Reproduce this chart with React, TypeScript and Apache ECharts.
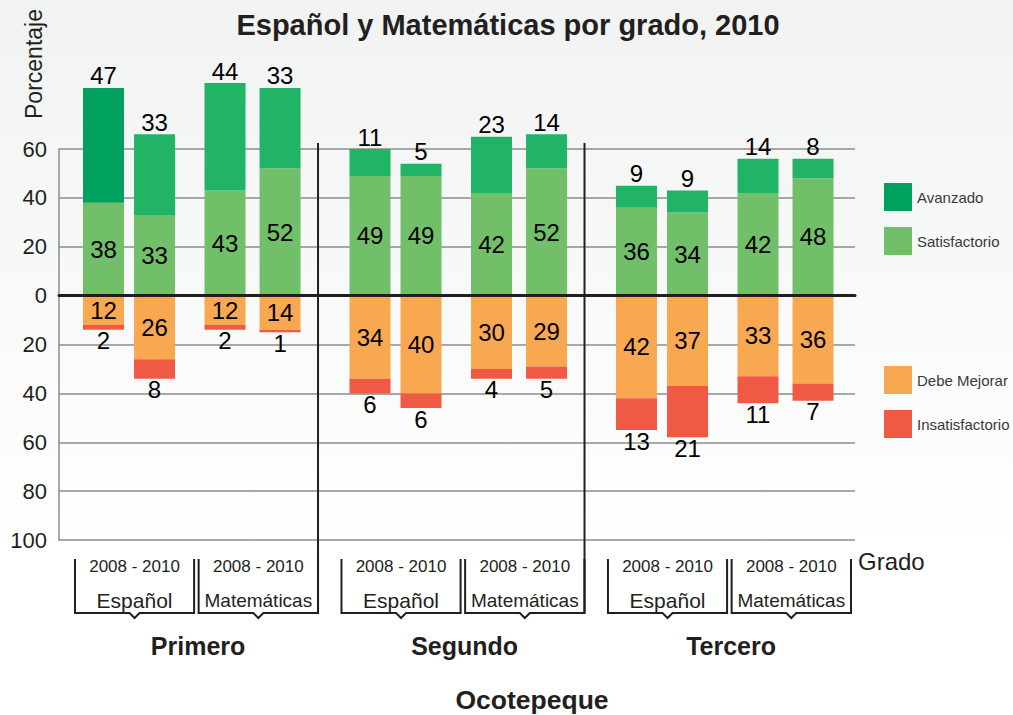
import React, { useEffect, useRef } from "react";
import * as echarts from "echarts";

// ---- data (order: grade -> subject -> year) ----
const grades = ["Primero", "Segundo", "Tercero"];
const subjects = ["Español", "Matemáticas"];
const periodLabel = "2008 - 2010";
const levelNames = ["Avanzado", "Satisfactorio", "Debe Mejorar", "Insatisfactorio"];
const avanzado = [47, 33, 44, 33, 11, 5, 23, 14, 9, 9, 14, 8];
const satisfactorio = [38, 33, 43, 52, 49, 49, 42, 52, 36, 34, 42, 48];
const debeMejorar = [12, 26, 12, 14, 34, 40, 30, 29, 42, 37, 33, 36];
const insatisfactorio = [2, 8, 2, 1, 6, 6, 4, 5, 13, 21, 11, 7];
const titleText = "Español y Matemáticas por grado, 2010";
const yAxisName = "Porcentaje";
const xAxisName = "Grado";
const regionName = "Ocotepeque";

// ---- layout (x units: each grade group is 10 units wide) ----
const GROUP = 10;
const barOffsets = [1.95, 3.865, 6.51, 8.575];
const bracketRanges = [
  [0.88, 5.35],
  [5.52, 10.0],
];
const gradeCenter = 5.5;

const FONT = '"Liberation Sans", Arial, Helvetica, sans-serif';
const TXT = "#231f20";
const C_AV_DARK = "#00a05f";
const C_AV = "#22b466";
const C_SAT = "#72bf6a";
const C_DEB = "#f9a852";
const C_INS = "#f05a44";

const xPos = (i: number) => Math.floor(i / 4) * GROUP + barOffsets[i % 4];

export default function App() {
  const ref = useRef<HTMLDivElement>(null);
  useEffect(() => {
    if (!ref.current) return;
    const chart = echarts.init(ref.current, undefined, { renderer: "svg" });
    const labelBase = {
      show: true,
      color: "#000",
      fontSize: 24,
      fontFamily: FONT,
      formatter: (p: any) => String(Math.abs(p.value[0])),
    };
    // value first (y), position second (x) so that stacking is applied to y
    const common = {
      type: "bar",
      stack: "t",
      barWidth: 41,
      clip: false,
      encode: { x: 1, y: 0 },
    };
    const series: any[] = [
      {
        ...common,
        name: "Satisfactorio",
        itemStyle: { color: C_SAT },
        label: { ...labelBase, position: "inside" },
        data: satisfactorio.map((v, i) => [v, xPos(i)]),
      },
      {
        ...common,
        name: "Avanzado",
        itemStyle: { color: C_AV_DARK },
        label: { ...labelBase, position: "top", distance: 0 },
        data: avanzado.map((v, i) =>
          i === 0 ? [v, xPos(i)] : { value: [v, xPos(i)], itemStyle: { color: C_AV } }
        ),
      },
      {
        ...common,
        name: "Debe Mejorar",
        itemStyle: { color: C_DEB },
        label: { ...labelBase, position: "inside" },
        data: debeMejorar.map((v, i) => [-v, xPos(i)]),
      },
      {
        ...common,
        name: "Insatisfactorio",
        itemStyle: { color: C_INS },
        label: { ...labelBase, position: "bottom", distance: -1 },
        data: insatisfactorio.map((v, i) => [-v, xPos(i)]),
      },
    ];
    const legendCommon = {
      orient: "vertical",
      left: 884,
      padding: 0,
      itemWidth: 28,
      itemHeight: 28,
      itemGap: 16,
      icon: "rect",
      selectedMode: false,
      textStyle: { fontSize: 15, color: "#3a3a3a", fontFamily: FONT },
    };
    chart.setOption({
      animation: false,
      grid: { left: 59, right: 158, top: 149, bottom: 175, containLabel: false },
      xAxis: {
        type: "value",
        min: 0.28,
        max: 30.15,
        z: 10,
        axisLabel: { show: false },
        axisTick: { show: false },
        splitLine: { show: false },
        axisLine: { show: true, onZero: true, lineStyle: { color: TXT, width: 3 } },
      },
      yAxis: {
        type: "value",
        min: -100,
        max: 60,
        interval: 20,
        axisLabel: {
          fontSize: 22,
          color: TXT,
          fontFamily: FONT,
          margin: 12,
          formatter: (v: number) => String(Math.abs(v)),
        },
        axisTick: { show: false },
        axisLine: { show: true, lineStyle: { color: "#8c8c8c", width: 1.5 } },
        splitLine: { show: true, lineStyle: { color: "#8c8c8c", width: 1.5 } },
      },
      legend: [
        {
          ...legendCommon,
          top: 183,
          data: [{ name: levelNames[0], itemStyle: { color: C_AV_DARK } }, levelNames[1]],
        },
        { ...legendCommon, top: 366, data: [levelNames[2], levelNames[3]] },
      ],
      series,
    });

    const px = (v: number) => chart.convertToPixel({ xAxisIndex: 0 }, v) as number;
    const py = (v: number) => chart.convertToPixel({ yAxisIndex: 0 }, v) as number;
    const yBottom = py(-100);
    const yTop60 = py(60);
    const brTop = yBottom + 19;
    const brBot = yBottom + 73;
    const graphics: any[] = [
      {
        type: "rect",
        z: -100,
        silent: true,
        shape: { x: 0, y: 0, width: 1013, height: 715 },
        style: {
          fill: new echarts.graphic.LinearGradient(0, 0, 0, 1, [
            { offset: 0, color: "#f1f2f2" },
            { offset: 0.78, color: "#ffffff" },
            { offset: 1, color: "#ffffff" },
          ]),
        },
      },
      {
        type: "text",
        x: 508,
        y: 25,
        style: {
          text: titleText,
          fontSize: 29,
          fontWeight: "bold",
          fontFamily: FONT,
          fill: TXT,
          align: "center",
          verticalAlign: "middle",
        },
      },
      {
        type: "text",
        x: 34,
        y: 64,
        rotation: Math.PI / 2,
        style: {
          text: yAxisName,
          fontSize: 23,
          fontFamily: FONT,
          fill: TXT,
          align: "center",
          verticalAlign: "middle",
        },
      },
      {
        type: "text",
        x: 858,
        y: yBottom + 21,
        style: {
          text: xAxisName,
          fontSize: 24,
          fontFamily: FONT,
          fill: TXT,
          align: "left",
          verticalAlign: "middle",
        },
      },
      {
        type: "text",
        x: 532,
        y: 700,
        style: {
          text: regionName,
          fontSize: 26.5,
          fontWeight: "bold",
          fontFamily: FONT,
          fill: TXT,
          align: "center",
          verticalAlign: "middle",
        },
      },
    ];
    grades.forEach((g, gi) => {
      const base = gi * GROUP;
      if (gi < grades.length - 1) {
        const sx = px(base + GROUP);
        graphics.push({
          type: "line",
          z: 50,
          shape: { x1: sx, y1: yTop60 - 6, x2: sx, y2: brBot },
          style: { stroke: TXT, lineWidth: 2 },
        });
      }
      subjects.forEach((s, si) => {
        const l = px(base + bracketRanges[si][0]);
        const r = px(base + bracketRanges[si][1]);
        const c = (l + r) / 2;
        graphics.push({
          type: "polyline",
          z: 50,
          shape: {
            points: [
              [l, brTop],
              [l, brBot],
              [c - 5, brBot],
              [c, brBot + 5],
              [c + 5, brBot],
              [r, brBot],
              [r, brTop],
            ],
          },
          style: { stroke: TXT, lineWidth: 2, fill: null },
        });
        graphics.push({
          type: "text",
          x: c,
          y: brTop + 7,
          style: {
            text: periodLabel,
            fontSize: 17,
            fontFamily: FONT,
            fill: TXT,
            align: "center",
            verticalAlign: "middle",
          },
        });
        graphics.push({
          type: "text",
          x: c,
          y: brTop + 41,
          style: {
            text: s,
            fontSize: si === 0 ? 21 : 19,
            fontFamily: FONT,
            fill: TXT,
            align: "center",
            verticalAlign: "middle",
          },
        });
      });
      graphics.push({
        type: "text",
        x: px(base + gradeCenter),
        y: brBot + 33,
        style: {
          text: g,
          fontSize: 25,
          fontWeight: "bold",
          fontFamily: FONT,
          fill: TXT,
          align: "center",
          verticalAlign: "middle",
        },
      });
    });
    chart.setOption({ graphic: graphics });

    return () => chart.dispose();
  }, []);
  return (
    <div
      ref={ref}
      style={{ position: "absolute", left: 0, top: 0, width: 1013, height: 715 }}
    />
  );
}
